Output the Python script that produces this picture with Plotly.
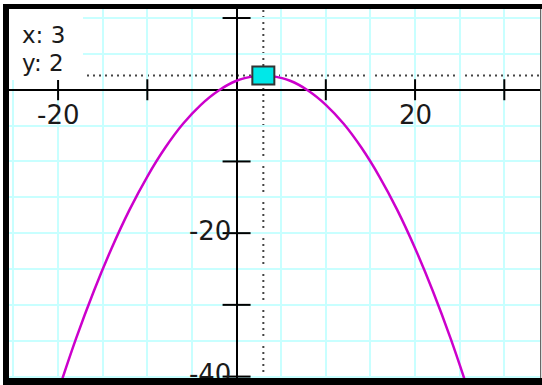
import plotly.graph_objects as go

# ---- data ----
curve_x = [-20, -18, -16, -14, -12, -10, -8, -6, -4, -2, 0, 2, 3, 4, 6, 8, 10, 12, 14, 16, 18, 20, 22, 24, 26]
curve_y = [-42.1, -34.75, -28.1, -22.1, -16.75, -12.1, -8.1, -4.75, -2.1, -0.1, 1.25, 1.9, 2.0, 1.9, 1.25,
           -0.1, -2.1, -4.75, -8.1, -12.1, -16.75, -22.1, -28.1, -34.75, -42.1]
cursor_x = 3
cursor_y = 2
x_ticks = [-20, -10, 10, 20, 30]
y_ticks = [10, -10, -20, -30, -40]
x_tick_labels = [-20, 20]
y_tick_labels = [-20, -40]

W, H = 542, 385
ML, MR, MT, MB = 9, 2, 9, 7
PW, PH = W - ML - MR, H - MT - MB
FONT = "DejaVu Sans"
TXT = "#1a1a1a"

fig = go.Figure()

# parabola
fig.add_trace(go.Scatter(x=curve_x, y=curve_y, mode="lines", line=dict(color="#cc00cc", width=2.5, shape="spline"),
                         hoverinfo="skip"))
# tick marks crossing the axes
fig.add_trace(go.Scatter(x=x_ticks, y=[0] * len(x_ticks), mode="markers",
                         marker=dict(symbol="line-ns", size=15, line=dict(color="black", width=2)), hoverinfo="skip"))
fig.add_trace(go.Scatter(x=[0] * len(y_ticks), y=y_ticks, mode="markers",
                         marker=dict(symbol="line-ew", size=20, line=dict(color="black", width=2)), hoverinfo="skip"))
# y tick labels (drawn as a trace so the frame covers the cut-off "-40")
fig.add_trace(go.Scatter(x=[0] * len(y_tick_labels), y=y_tick_labels, mode="text",
                         text=[f"{v}\u2009" for v in y_tick_labels], textposition="middle left",
                         textfont=dict(family=FONT, size=26, color=TXT), hoverinfo="skip", cliponaxis=False))

axis_common = dict(showgrid=True, gridcolor="#c8ffff", gridwidth=2, dtick=5, tick0=0,
                   zeroline=True, zerolinecolor="black", zerolinewidth=2,
                   showticklabels=False, ticks="", showline=False, fixedrange=True)

shapes = [
    # dotted cross-hair lines
    dict(type="line", xref="paper", yref="y", x0=0, x1=1, y0=cursor_y, y1=cursor_y,
         line=dict(color="#444", width=2, dash="2px,4px"), layer="between"),
    dict(type="line", xref="x", yref="paper", x0=cursor_x, x1=cursor_x, y0=0, y1=1,
         line=dict(color="#444", width=2, dash="2px,4px"), layer="between"),
    # white box behind the readout
    dict(type="rect", xref="paper", yref="paper", x0=0, x1=(83 - ML) / PW, y0=1 - (80 - MT) / PH, y1=1,
         fillcolor="white", line=dict(width=0), layer="above"),
    # cursor square
    dict(type="rect", xref="x", yref="y", xsizemode="pixel", ysizemode="pixel",
         xanchor=cursor_x, yanchor=cursor_y, x0=-11, x1=11, y0=-9, y1=9,
         fillcolor="#00e8e8", line=dict(color="#333", width=2), layer="above"),
    # frame
    dict(type="rect", xref="paper", yref="paper", x0=-6 / PW, x1=0, y0=-MB / PH, y1=1 + 5 / PH,
         fillcolor="black", line=dict(width=0), layer="above"),
    dict(type="rect", xref="paper", yref="paper", x0=-6 / PW, x1=1 + MR / PW, y0=1, y1=1 + 5 / PH,
         fillcolor="black", line=dict(width=0), layer="above"),
    dict(type="rect", xref="paper", yref="paper", x0=-6 / PW, x1=1 + MR / PW, y0=-MB / PH, y1=0,
         fillcolor="black", line=dict(width=0), layer="above"),
    dict(type="line", xref="paper", yref="paper", x0=1 + 0.7 / PW, x1=1 + 0.7 / PW, y0=0, y1=1,
         line=dict(color="#444", width=1), layer="above"),
]

annotations = [
    dict(xref="paper", yref="paper", x=(20 - ML) / PW, y=1 - (34.5 - MT) / PH, xanchor="left", yanchor="middle",
         text=f"x: {cursor_x}", showarrow=False, font=dict(family=FONT, size=23, color=TXT)),
    dict(xref="paper", yref="paper", x=(20 - ML) / PW, y=1 - (63 - MT) / PH, xanchor="left", yanchor="middle",
         text=f"y: {cursor_y}", showarrow=False, font=dict(family=FONT, size=23, color=TXT)),
]
for v in x_tick_labels:
    annotations.append(dict(xref="x", yref="y", x=v, y=0, xanchor="center", yanchor="middle", yshift=-25,
                            text=str(v), showarrow=False, font=dict(family=FONT, size=26, color=TXT)))

fig.update_layout(
    width=W, height=H, margin=dict(l=ML, r=MR, t=MT, b=MB, pad=0),
    paper_bgcolor="white", plot_bgcolor="white", showlegend=False,
    xaxis=dict(range=[-25.5, 34.0], **axis_common),
    yaxis=dict(range=[-40.2, 11.26], **axis_common),
    shapes=shapes, annotations=annotations,
)

fig.write_html("out.html", config={"displayModeBar": False},
               post_script="document.body.style.margin='0';document.body.style.overflow='hidden';")
